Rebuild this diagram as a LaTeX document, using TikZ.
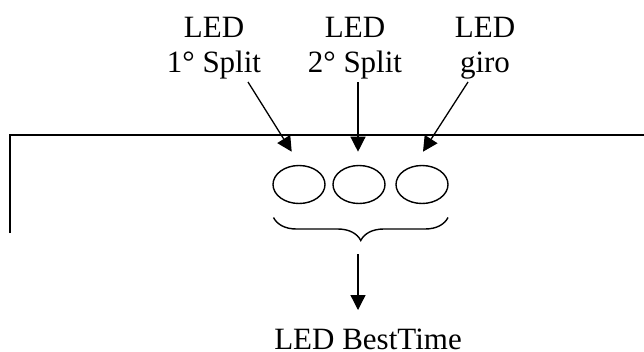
\documentclass[tikz,border=0pt]{standalone}
\usepackage{fontspec}
\setmainfont{Liberation Serif}
\usetikzlibrary{arrows.meta,decorations.pathreplacing,shapes.geometric}
\begin{document}
\begin{tikzpicture}[x=1pt,y=-1pt,
  lbl/.style={align=center,inner sep=0pt,anchor=north,font=\fontsize{31}{35.7}\selectfont},
  led/.style={draw,ellipse,minimum width=52pt,minimum height=38pt,inner sep=0pt,line width=1.4pt},
  arr/.style={-{Triangle[length=15pt,width=15pt]},line width=1.3pt},
  frame/.style={line width=1.8pt},
  bracestyle/.style={line width=1.4pt,decorate,decoration={brace,amplitude=23pt,mirror}}]
\useasboundingbox (0,0) rectangle (644,351);
\coordinate (fb) at (10,233);
\coordinate (fc) at (10,135);
\coordinate (fr) at (644,135);
\draw[frame] (fb) -- (fc) -- (fr);
\node[lbl] (t1) at (214,16.5) {LED\\1° Split};
\node[lbl] (t2) at (355,16.5) {LED\\2° Split};
\node[lbl] (t3) at (485,16.5) {LED\\giro};
\node[led] (e1) at (299,184.5) {};
\node[led] (e2) at (359,184.5) {};
\node[led] (e3) at (422,184.5) {};
\coordinate (s1) at (248,82);
\coordinate (h1) at (291.7,151.7);
\coordinate (s2) at (358,82);
\coordinate (h2) at (358,151.7);
\coordinate (s3) at (468,82);
\coordinate (h3) at (423,151.7);
\draw[arr] (s1) -- (h1);
\draw[arr] (s2) -- (h2);
\draw[arr] (s3) -- (h3);
\coordinate (bl) at (273.5,217.5);
\coordinate (br) at (448,217.5);
\draw[bracestyle] (bl) -- (br);
\coordinate (bs) at (358,254);
\coordinate (bh) at (358,310);
\draw[arr] (bs) -- (bh);
\node[inner sep=0pt,anchor=base,font=\fontsize{31}{35.7}\selectfont] (best) at (368,349) {LED BestTime};
\end{tikzpicture}
\end{document}
